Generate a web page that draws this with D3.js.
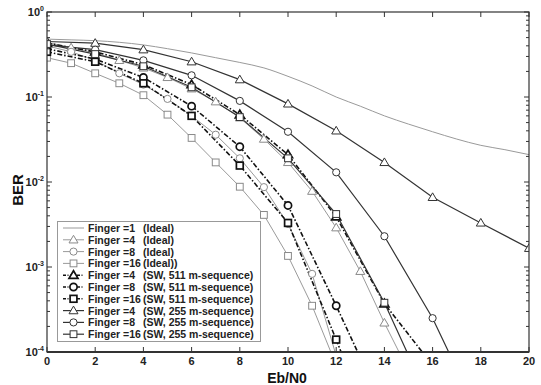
<!DOCTYPE html>
<html>
<head>
<meta charset="utf-8">
<script src="https://cdn.jsdelivr.net/npm/d3@7"></script>
<style>
  body { margin: 0; background: #fff; }
  svg { font-family: "Liberation Sans", Arial, sans-serif; font-weight: bold; }
</style>
</head>
<body>
<div class="chart"></div>
<script>
// x values
const ebAll = [0,1,2,3,4,5,6,7,8,9,10,11,12,13,14,15,16,17,18,19,20];
const ebEven = [0,2,4,6,8,10,12,14,16,18,20];
const xTicks = [0,2,4,6,8,10,12,14,16,18,20];
const yTicks = [1e-4,1e-3,1e-2,1e-1,1];
const yTickExp = ['-4','-3','-2','-1','0'];

// BER values (last point of a series may lie under 1e-4 and is clipped)
const f1Ideal  = [0.48,0.47,0.46,0.44,0.41,0.37,0.33,0.29,0.255,0.22,0.175,0.135,0.1,0.078,0.06,0.048,0.039,0.032,0.027,0.024,0.021];
const f4Ideal  = [0.44,0.38,0.33,0.27,0.22,0.17,0.125,0.088,0.057,0.032,0.017,0.0078,0.0029,0.00089,0.00022,0.00006];
const f8Ideal  = [0.40,0.34,0.27,0.19,0.14,0.095,0.06,0.036,0.019,0.0087,0.0032,0.00083,0.00009];
const f16Ideal = [0.29,0.25,0.19,0.145,0.105,0.062,0.033,0.017,0.0088,0.0041,0.00135,0.00035,0.00007];
const f4Sw511  = [0.43,0.34,0.24,0.14,0.062,0.021,0.0039,0.00037,0.00007];
const f8Sw511  = [0.37,0.28,0.17,0.078,0.026,0.0053,0.00035,0.000021];
const f16Sw511 = [0.34,0.26,0.145,0.06,0.0156,0.0033,0.00014,0.000005];
const f4Sw255  = [0.45,0.43,0.36,0.26,0.16,0.083,0.04,0.017,0.0066,0.0033,0.00166];
const f8Sw255  = [0.41,0.36,0.27,0.18,0.09,0.039,0.013,0.0023,0.00025,0.000016];
const f16Sw255 = [0.42,0.32,0.23,0.13,0.058,0.019,0.0042,0.00038,0.000022];

const legendNames = ['Finger =1','Finger =4','Finger =8','Finger =16','Finger =4','Finger =8','Finger =16','Finger =4','Finger =8','Finger =16'];
const legendNotes = ['(Ideal)','(Ideal)','(Ideal)','(Ideal))','(SW, 511 m-sequence)','(SW, 511 m-sequence)','(SW, 511 m-sequence)','(SW, 255 m-sequence)','(SW, 255 m-sequence)','(SW, 255 m-sequence)'];

const styles = {
  ideal: { stroke: '#9a9a9a', width: 1, dash: null, mstroke: '#8a8a8a', mwidth: 1 },
  sw511: { stroke: '#111', width: 1.6, dash: '5,2,1.5,2', mstroke: '#111', mwidth: 1.7 },
  sw255: { stroke: '#333', width: 1.2, dash: null, mstroke: '#333', mwidth: 1 }
};

const series = [
  { x: ebAll, y: f1Ideal, kind: 'ideal', marker: null, smooth: true },
  { x: ebAll, y: f4Ideal, kind: 'ideal', marker: 'tri' },
  { x: ebAll, y: f8Ideal, kind: 'ideal', marker: 'circ' },
  { x: ebAll, y: f16Ideal, kind: 'ideal', marker: 'sq' },
  { x: ebEven, y: f4Sw511, kind: 'sw511', marker: 'tri' },
  { x: ebEven, y: f8Sw511, kind: 'sw511', marker: 'circ' },
  { x: ebEven, y: f16Sw511, kind: 'sw511', marker: 'sq' },
  { x: ebEven, y: f4Sw255, kind: 'sw255', marker: 'tri' },
  { x: ebEven, y: f8Sw255, kind: 'sw255', marker: 'circ' },
  { x: ebEven, y: f16Sw255, kind: 'sw255', marker: 'sq' }
];

const W = 541, H = 385;
const margin = { top: 12, right: 12, bottom: 33, left: 47 };

const svg = d3.select('.chart').append('svg')
  .attr('width', W).attr('height', H);

const xScale = d3.scaleLinear().domain([0, 20]).range([margin.left, W - margin.right]);
const yScale = d3.scaleLog().domain([1e-4, 1]).range([H - margin.bottom, margin.top]);

const x0 = xScale(0), x1 = xScale(20), y0 = yScale(1e-4), y1 = yScale(1);

svg.append('clipPath').attr('id', 'plotclip')
  .append('rect').attr('x', x0).attr('y', y1).attr('width', x1 - x0).attr('height', y0 - y1);

// minor + major log ticks, left and right, inward
const minor = [];
for (let e = -4; e < 0; e++) for (let m = 2; m <= 9; m++) minor.push(m * Math.pow(10, e));
const tickG = svg.append('g').attr('stroke', '#333').attr('stroke-width', 1);
minor.forEach(v => {
  tickG.append('line').attr('x1', x0).attr('x2', x0 + 3).attr('y1', yScale(v)).attr('y2', yScale(v));
  tickG.append('line').attr('x1', x1).attr('x2', x1 - 3).attr('y1', yScale(v)).attr('y2', yScale(v));
});
yTicks.forEach(v => {
  tickG.append('line').attr('x1', x0).attr('x2', x0 + 5).attr('y1', yScale(v)).attr('y2', yScale(v));
  tickG.append('line').attr('x1', x1).attr('x2', x1 - 5).attr('y1', yScale(v)).attr('y2', yScale(v));
});
xTicks.forEach(v => {
  tickG.append('line').attr('x1', xScale(v)).attr('x2', xScale(v)).attr('y1', y0).attr('y2', y0 - 5);
  tickG.append('line').attr('x1', xScale(v)).attr('x2', xScale(v)).attr('y1', y1).attr('y2', y1 + 5);
});

// tick labels
svg.append('g').selectAll('text').data(xTicks).enter().append('text')
  .attr('x', d => xScale(d)).attr('y', y0 + 13)
  .attr('text-anchor', 'middle').attr('font-size', 11).attr('fill', '#222')
  .text(d => d);

const yl = svg.append('g').selectAll('text').data(yTicks).enter().append('text')
  .attr('x', x0 - 3).attr('y', d => yScale(d) + 4)
  .attr('text-anchor', 'end').attr('font-size', 11).attr('fill', '#222');
yl.append('tspan').text('10');
yl.append('tspan').attr('dy', -5).attr('font-size', 7).text((d, i) => yTickExp[i]);

// axis titles
svg.append('text').attr('x', 287).attr('y', 383).attr('text-anchor', 'middle')
  .attr('font-size', 14).attr('fill', '#111').text('Eb/N0');
svg.append('text').attr('transform', `translate(23,${(y0 + y1) / 2 + 8}) rotate(-90)`)
  .attr('text-anchor', 'middle').attr('font-size', 15).attr('fill', '#111').text('BER');

// marker drawing
function drawMarker(g, type, cx, cy, st) {
  let m;
  if (type === 'tri') {
    const s = 4.5;
    m = g.append('path').attr('d', `M${cx},${cy - s} L${cx + s},${cy + s * 0.7} L${cx - s},${cy + s * 0.7} Z`);
  } else if (type === 'circ') {
    m = g.append('circle').attr('cx', cx).attr('cy', cy).attr('r', 3.6);
  } else if (type === 'sq') {
    m = g.append('rect').attr('x', cx - 3.4).attr('y', cy - 3.4).attr('width', 6.8).attr('height', 6.8);
  }
  if (m) m.attr('fill', 'white').attr('stroke', st.mstroke).attr('stroke-width', st.mwidth);
}

const plot = svg.append('g').attr('clip-path', 'url(#plotclip)');

// draw lines first, then markers on top
series.forEach(s => {
  const st = styles[s.kind];
  const pts = s.y.map((v, i) => [s.x[i], v]);
  const line = d3.line()
    .x(d => xScale(d[0])).y(d => yScale(d[1]))
    .curve(s.smooth ? d3.curveMonotoneX : d3.curveLinear);
  plot.append('path').datum(pts)
    .attr('d', line).attr('fill', 'none')
    .attr('stroke', st.stroke).attr('stroke-width', st.width)
    .attr('stroke-dasharray', st.dash);
});
series.forEach(s => {
  if (!s.marker) return;
  const st = styles[s.kind];
  s.y.forEach((v, i) => {
    if (v >= 1e-4) drawMarker(plot, s.marker, xScale(s.x[i]), yScale(v), st);
  });
});

// frame
svg.append('rect').attr('x', x0).attr('y', y1).attr('width', x1 - x0).attr('height', y0 - y1)
  .attr('fill', 'none').attr('stroke', '#333').attr('stroke-width', 1.2);
svg.append('line').attr('x1', x0).attr('x2', x1).attr('y1', y0).attr('y2', y0)
  .attr('stroke', '#333').attr('stroke-width', 2);

// legend
const lg = svg.append('g');
lg.append('rect').attr('x', 57.5).attr('y', 221.5).attr('width', 203).attr('height', 120)
  .attr('fill', 'white').attr('stroke', '#999').attr('stroke-width', 1);
series.forEach((s, i) => {
  const st = styles[s.kind];
  const ly = 228 + i * 11.8;
  lg.append('line').attr('x1', 63).attr('x2', 84).attr('y1', ly).attr('y2', ly)
    .attr('stroke', st.stroke).attr('stroke-width', st.width)
    .attr('stroke-dasharray', s.kind === 'sw511' ? '3,1.5,1,1.5' : null);
  if (s.marker) drawMarker(lg, s.marker, 73.5, ly, st);
  lg.append('text').attr('x', 88).attr('y', ly + 4).attr('font-size', 10.5).attr('fill', '#222')
    .text(legendNames[i]);
  lg.append('text').attr('x', 143).attr('y', ly + 4).attr('font-size', 10.5).attr('fill', '#222')
    .text(legendNotes[i]);
});
</script>
</body>
</html>
